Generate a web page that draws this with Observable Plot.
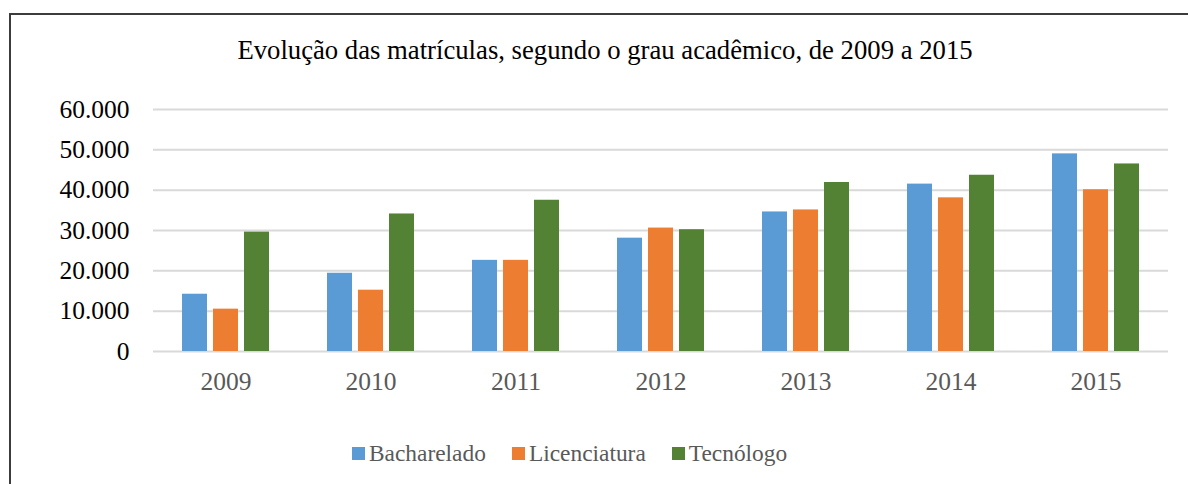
<!DOCTYPE html>
<html>
<head>
<meta charset="utf-8">
<script src="https://cdn.jsdelivr.net/npm/d3@7"></script>
<script src="https://cdn.jsdelivr.net/npm/@observablehq/plot@0.6"></script>
<style>
  html, body { margin: 0; padding: 0; background: #fff; }
  body { width: 1188px; height: 484px; overflow: hidden; position: relative;
         font-family: "Liberation Serif", "Times New Roman", serif; }
  #chart { position: absolute; left: 0; top: 0; }
  #title { position: absolute; left: 0; width: 1210px; top: 37px; text-align: center;
           font-size: 26.7px; line-height: 27px; color: #000; white-space: nowrap; }
  #legend { position: absolute; left: 352px; top: 440px; display: flex; align-items: center;
            font-size: 23.4px; line-height: 26px; color: #595959; white-space: nowrap; }
  #legend .item { display: flex; align-items: center; margin-right: 26px; }
  #legend .sw { width: 13px; height: 13px; margin-right: 4px; }
  #frame { position: absolute; left: 9px; top: 13px; width: 1300px; height: 600px;
           border-left: 2px solid #3c3c3c; border-top: 2px solid #3c3c3c; pointer-events: none; }
</style>
</head>
<body>
<div id="chart"></div>
<div id="title">Evolução das matrículas, segundo o grau acadêmico, de 2009 a 2015</div>
<div id="legend"></div>
<div id="frame"></div>
<script>
const years = ["2009", "2010", "2011", "2012", "2013", "2014", "2015"];
const series = ["Bacharelado", "Licenciatura", "Tecnólogo"];
const bacharelado = [14200, 19400, 22600, 28100, 34600, 41500, 49000];
const licenciatura = [10500, 15200, 22600, 30600, 35100, 38100, 40100];
const tecnologo = [29600, 34100, 37500, 30200, 41900, 43700, 46500];
const colors = ["#5B9BD5", "#ED7D31", "#548235"];
const yTicks = [0, 10000, 20000, 30000, 40000, 50000, 60000];

const valuesBySeries = [bacharelado, licenciatura, tecnologo];
const rows = [];
years.forEach((yr, i) => {
  series.forEach((s, j) => rows.push({ year: yr, serie: s, value: valuesBySeries[j][i] }));
});

const ptBR = d3.formatLocale({ decimal: ",", thousands: ".", grouping: [3], currency: ["R$", ""] });
const fmt = ptBR.format(",d");

const chart = Plot.plot({
  width: 1188,
  height: 420,
  marginTop: 109,
  marginBottom: 69,
  marginLeft: 151,
  marginRight: 18,
  style: { fontFamily: '"Liberation Serif", "Times New Roman", serif', background: "transparent" },
  fx: { domain: years, padding: 0, label: null },
  x: { domain: series, paddingInner: 0.1875, paddingOuter: 0.867, axis: null },
  y: { domain: [0, 60000], label: null },
  color: { domain: series, range: colors },
  marks: [
    Plot.ruleY(yTicks, { stroke: "#d9d9d9", strokeWidth: 2 }),
    Plot.barY(rows, { fx: "year", x: "serie", y: "value", fill: "serie" }),
    Plot.axisY(yTicks, { tickSize: 0, tickPadding: 24, tickFormat: fmt, fontSize: 25.5, fill: "#000", label: null }),
    Plot.axisFx({ anchor: "bottom", tickSize: 0, tickPadding: 20, fontSize: 25.5, fill: "#595959", label: null })
  ]
});
document.getElementById("chart").appendChild(chart);

const legend = document.getElementById("legend");
series.forEach((s, j) => {
  const item = document.createElement("div");
  item.className = "item";
  const sw = document.createElement("span");
  sw.className = "sw";
  sw.style.background = colors[j];
  const t = document.createElement("span");
  t.textContent = s;
  item.appendChild(sw);
  item.appendChild(t);
  legend.appendChild(item);
});
</script>
</body>
</html>
